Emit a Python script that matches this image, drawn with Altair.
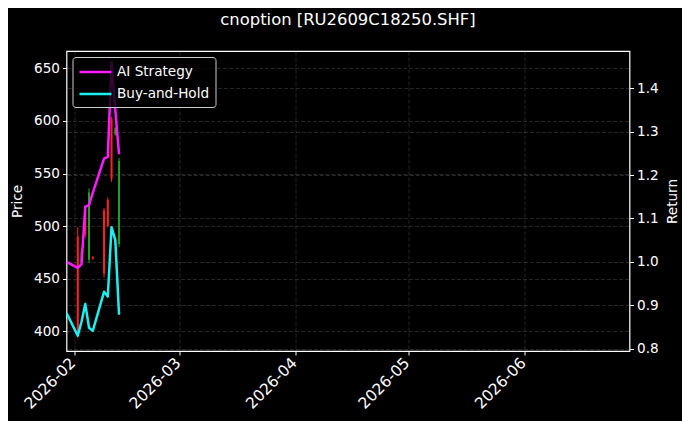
import pandas as pd
import altair as alt

# ---- values ----
dates = ["2026-01-30", "2026-02-02", "2026-02-03", "2026-02-04", "2026-02-05",
         "2026-02-06", "2026-02-09", "2026-02-10", "2026-02-11", "2026-02-12",
         "2026-02-13"]
ai_strategy = [1.000, 0.986, 0.995, 1.127, 1.131, 1.159, 1.238, 1.242, 1.460, 1.350, 1.248]
buy_and_hold = [0.882, 0.830, 0.862, 0.903, 0.848, 0.841, 0.931, 0.920, 1.080, 1.050, 0.878]

candle_dates = dates[1:]
opens = [490, 466, 515, 468, 471, 515, 525, 602, 587, 483]
highs = [499, 478, 517, 536, 471, 517, 527, 604, 594, 565]
lows = [394, 464, 489, 465, 468, 451, 499, 542, 586, 480]
closes = [400, 476, 492, 532, 469, 455, 500, 545, 593, 562]

series_names = ["AI Strategy", "Buy-and-Hold"]
price_ticks = [400, 450, 500, 550, 600, 650]
return_ticks = [0.8, 0.9, 1.0, 1.1, 1.2, 1.3, 1.4]
month_ticks = [2, 3, 4, 5, 6]

FONT = "DejaVu Sans"
UP, DOWN = "#22a022", "#ff2020"
MAGENTA, CYAN = "#ff1aff", "#1af0f0"

ohlc = pd.DataFrame({"date": candle_dates, "open": opens, "high": highs,
                     "low": lows, "close": closes})
lines = pd.DataFrame({
    "date": dates * 2,
    "value": ai_strategy + buy_and_hold,
    "series": [series_names[0]] * len(dates) + [series_names[1]] * len(dates),
})

grid = dict(grid=True, gridColor="#8a8a8a", gridOpacity=0.45, gridDash=[4, 2], gridWidth=0.6)
ticks = dict(domain=False, tickColor="white", tickSize=4, tickWidth=1,
             labelColor="white", labelFont=FONT, labelFontSize=13.6, labelPadding=3,
             titleColor="white", titleFont=FONT, titleFontSize=13.6, titleFontWeight="normal")

# x runs from the first bar to the end of June, like the reference
x_scale = alt.Scale(type="utc", nice=False, padding=0,
                    domain=[alt.DateTime(year=2026, month=1, date=30, utc=True),
                            alt.DateTime(year=2026, month=6, date=29, utc=True)])
x_axis = alt.Axis(values=[alt.DateTime(year=2026, month=m, date=1, utc=True) for m in month_ticks],
                  format="%Y-%m", labelAngle=-45, labelAlign="right", labelBaseline="middle",
                  labelOffset=-1.5,
                  **grid, **{**ticks, "labelFontSize": 15.5, "labelPadding": 5})
x_enc = alt.X("date:T", scale=x_scale, axis=x_axis, title=None)

price_scale = alt.Scale(domain=[381.2, 666.5], nice=False, zero=False, padding=0)
price_axis = alt.Axis(title="Price", values=price_ticks, titlePadding=9, **grid, **ticks)

candle_color = alt.condition("datum.close >= datum.open", alt.value(UP), alt.value(DOWN))

wicks = alt.Chart(ohlc).mark_rule(strokeWidth=1).encode(
    x=x_enc,
    y=alt.Y("low:Q", scale=price_scale, axis=price_axis),
    y2="high:Q",
    color=candle_color,
)
bodies = alt.Chart(ohlc).mark_bar(size=2).encode(
    x=x_enc,
    y=alt.Y("open:Q", scale=price_scale, axis=price_axis),
    y2="close:Q",
    color=candle_color,
)
candles = alt.layer(wicks, bodies)

return_line = alt.Chart(lines).mark_line(strokeWidth=2.5, strokeJoin="round", clip=True).encode(
    x=x_enc,
    y=alt.Y("value:Q",
            scale=alt.Scale(domain=[0.7945, 1.486], nice=False, zero=False),
            axis=alt.Axis(title="Return", orient="right", values=return_ticks, format=".1f",
                          titleAngle=270, titleBaseline="top", titlePadding=7, **grid, **ticks)),
    color=alt.Color("series:N",
                    scale=alt.Scale(domain=series_names, range=[MAGENTA, CYAN]),
                    legend=alt.Legend(title=None, orient="top-left", offset=6,
                                      fillColor="rgba(0,0,0,0.8)", strokeColor="#cccccc",
                                      cornerRadius=3, padding=5.5, rowPadding=5,
                                      symbolType="M-1,0L3,0", symbolSize=256,
                                      symbolStrokeWidth=2.5, labelOffset=20,
                                      labelColor="white", labelFont=FONT, labelFontSize=13.6)),
    order="date:T",
)

chart = (
    alt.layer(candles, return_line)
    .resolve_scale(y="independent")
    .properties(
        width=563,
        height=300,
        autosize=alt.AutoSizeParams(type="none"),
        padding={"left": 58.5, "top": 43, "right": 52.5, "bottom": 70},
        title=alt.TitleParams("cnoption [RU2609C18250.SHF]", color="white", font=FONT,
                              fontSize=16.4, fontWeight="normal", anchor="middle",
                              baseline="bottom", offset=7),
    )
    .configure(background="black")
    .configure_view(stroke="white", strokeWidth=1.2)
)

chart.save("out.html", embed_options={"renderer": "svg", "actions": False})
